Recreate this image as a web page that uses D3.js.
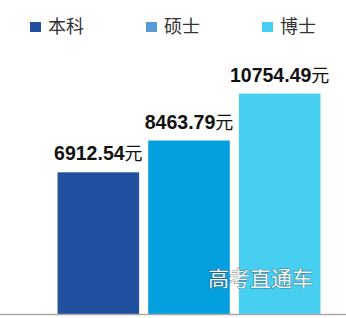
<!DOCTYPE html>
<html lang="zh">
<head>
<meta charset="utf-8">
<title>本科 硕士 博士</title>
<style>
  body { margin: 0; background: #fff; }
</style>
</head>
<body>
<script src="https://d3js.org/d3.v7.min.js"></script>
<div id="chart"></div>
<script>
var categories = ["本科", "硕士", "博士"];
var values = [6912.54, 8463.79, 10754.49];
var barColors = ["#2150a0", "#039fdf", "#47cff2"];
var legendColors = ["#2150a0", "#5b9bd5", "#47cff2"];

var width = 346, height = 318;

var svg = d3.select("#chart")
  .append("svg")
    .attr("width", width)
    .attr("height", height)
    .style("font-family", "'Noto Sans CJK SC', sans-serif");

var x = d3.scaleBand()
  .domain(categories)
  .range([53, 325])
  .paddingInner(0.1)
  .paddingOuter(0.05);

var y = d3.scaleLinear()
  .domain([0, 15320])
  .range([314, 0]);

// bars
svg.selectAll("rect.bar")
  .data(values)
  .enter()
  .append("rect")
    .attr("class", "bar")
    .attr("x", function(d, i) { return x(categories[i]); })
    .attr("y", function(d) { return y(d); })
    .attr("width", x.bandwidth())
    .attr("height", function(d) { return y(0) - y(d); })
    .attr("fill", function(d, i) { return barColors[i]; });

// value labels
var labels = svg.selectAll("text.val")
  .data(values)
  .enter()
  .append("text")
    .attr("class", "val")
    .attr("x", function(d, i) { return x(categories[i]) + x.bandwidth() / 2; })
    .attr("y", function(d) { return y(d) - 12; })
    .attr("text-anchor", "middle")
    .attr("fill", "#111");
labels.append("tspan")
  .attr("font-family", "'Liberation Sans', Arial, sans-serif")
  .attr("font-weight", "bold")
  .attr("font-size", "19.5px")
  .text(function(d) { return d.toFixed(2); });
labels.append("tspan")
  .attr("font-size", "18px")
  .text("元");

// baseline
svg.append("line")
  .attr("x1", 0)
  .attr("x2", width)
  .attr("y1", y(0) + 0.5)
  .attr("y2", y(0) + 0.5)
  .attr("stroke", "#aaa")
  .attr("stroke-width", 1.5);

// legend
var legendX = [30, 146, 262];
var legend = svg.selectAll("g.legend")
  .data(categories)
  .enter()
  .append("g")
    .attr("class", "legend")
    .attr("transform", function(d, i) { return "translate(" + legendX[i] + ",22)"; });
legend.append("rect")
  .attr("width", 11)
  .attr("height", 10)
  .attr("fill", function(d, i) { return legendColors[i]; });
legend.append("text")
  .attr("x", 18)
  .attr("y", 10.5)
  .attr("font-size", "18px")
  .attr("fill", "#333")
  .text(function(d) { return d; });

// watermark
svg.append("text")
  .attr("x", 208)
  .attr("y", 286)
  .attr("font-size", "21px")
  .attr("fill", "#f4f4f4")
  .style("paint-order", "stroke")
  .attr("stroke", "rgba(50,50,50,0.5)")
  .attr("stroke-width", 1.2)
  .text("高考直通车");
</script>
</body>
</html>
